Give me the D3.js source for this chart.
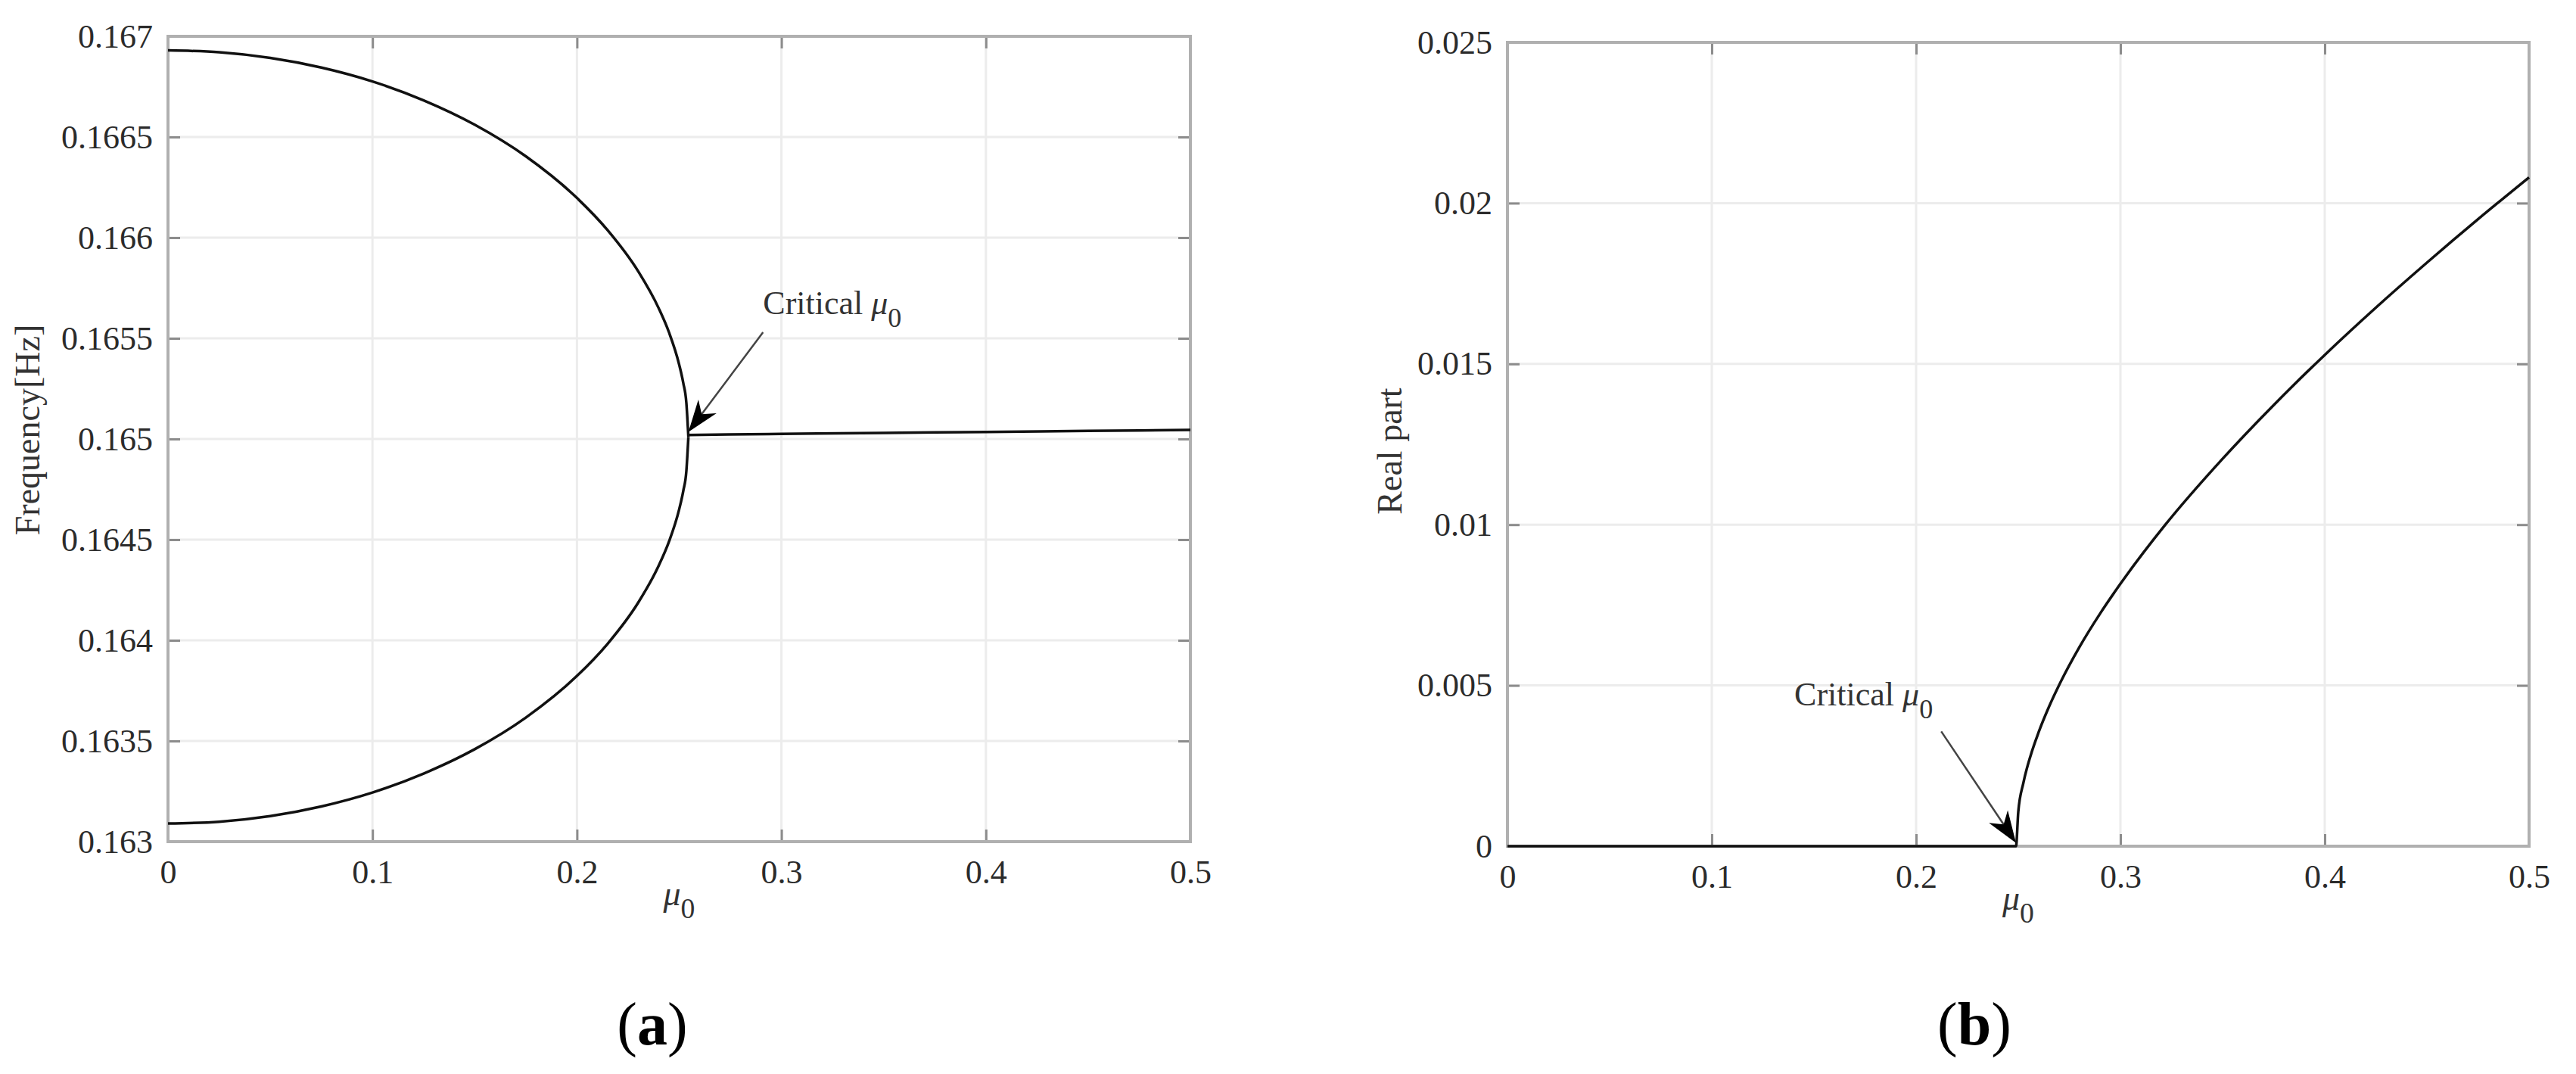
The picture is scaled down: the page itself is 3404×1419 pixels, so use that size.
<!DOCTYPE html>
<html>
<head>
<meta charset="utf-8">
<script src="https://cdn.jsdelivr.net/npm/d3@7/dist/d3.min.js"></script>
<style>
    body { margin: 0; background: #fff; }
    svg text { font-family: "Liberation Serif", "Times New Roman", serif; }
</style>
</head>
<body>
<script>
// tick values
const muTicks = [0, 0.1, 0.2, 0.3, 0.4, 0.5];
const freqTicks = [0.163, 0.1635, 0.164, 0.1645, 0.165, 0.1655, 0.166, 0.1665, 0.167];
const realTicks = [0, 0.005, 0.01, 0.015, 0.02, 0.025];

// (a) the two frequencies before they merge
const muSplit = [0, 0.025, 0.05, 0.075, 0.1, 0.125, 0.15, 0.175, 0.2, 0.215, 0.23, 0.24, 0.245, 0.25, 0.252, 0.2535, 0.2545];
const freqUpper = [0.16693, 0.166921, 0.166893, 0.166845, 0.166776, 0.166682, 0.166561, 0.166404, 0.166197, 0.166037, 0.165832, 0.165649, 0.16553, 0.165369, 0.165278, 0.16518, 0.16501];
const freqLower = [0.16309, 0.163099, 0.163127, 0.163175, 0.163244, 0.163338, 0.163459, 0.163616, 0.163823, 0.163983, 0.164188, 0.164371, 0.16449, 0.164651, 0.164742, 0.16484, 0.16501];
// (a) after the critical point there is a single frequency
const muMerged = [0.2545, 0.3, 0.35, 0.4, 0.45, 0.5];
const freqMerged = [0.16502, 0.165025, 0.16503, 0.165035, 0.16504, 0.165045];

// (b) real part of the eigenvalue
const muReal = [0, 0.1, 0.2, 0.2489, 0.25, 0.2525, 0.256, 0.26, 0.265, 0.2706, 0.28, 0.29, 0.3, 0.322, 0.35, 0.375, 0.4, 0.425, 0.45, 0.475, 0.5];
const realPart = [0, 0, 0, 0, 0.00107, 0.00197, 0.00281, 0.00355, 0.00433, 0.00509, 0.0062, 0.00723, 0.00816, 0.0100, 0.01205, 0.01372, 0.01528, 0.01675, 0.01815, 0.0195, 0.0208];

// annotation anchors, in data units: label corner, arrow tail, arrow tip
const noteA = [[0.291, 0.16562], [0.291, 0.16553], [0.2545, 0.165035]];
const noteB = [[0.1404, 0.00437], [0.2123, 0.00357], [0.2489, 0.0001]];

const W = 3404, H = 1419;
const svg = d3.select("body").append("svg")
    .attr("width", W)
    .attr("height", H);
svg.append("rect").attr("width", W).attr("height", H).attr("fill", "#fff");

//builds grid, box, ticks for one panel and hands back its scales
function makePanel(box, yDomain, yTicks) {
    let x = d3.scaleLinear().domain([0, 0.5]).range([box.left, box.right]);
    let y = d3.scaleLinear().domain(yDomain).range([box.bottom, box.top]);
    let g = svg.append("g");

    // grid lines, only the inner ones
    g.append("g").selectAll("line").data(muTicks.slice(1, -1)).join("line")
        .attr("x1", d => x(d)).attr("x2", d => x(d))
        .attr("y1", box.top).attr("y2", box.bottom)
        .attr("stroke", "#ececec").attr("stroke-width", 3);
    g.append("g").selectAll("line").data(yTicks.slice(1, -1)).join("line")
        .attr("y1", d => y(d)).attr("y2", d => y(d))
        .attr("x1", box.left).attr("x2", box.right)
        .attr("stroke", "#ececec").attr("stroke-width", 3);

    // ticks point inward on all four sides like matlab does
    const fmt = d => String(+d.toFixed(4));
    let axes = [
        g.append("g").attr("transform", "translate(0," + box.bottom + ")")
            .call(d3.axisBottom(x).tickValues(muTicks).tickSize(-16).tickSizeOuter(0).tickPadding(24).tickFormat(fmt)),
        g.append("g").attr("transform", "translate(0," + box.top + ")")
            .call(d3.axisTop(x).tickValues(muTicks).tickSize(-16).tickSizeOuter(0).tickFormat("")),
        g.append("g").attr("transform", "translate(" + box.left + ",0)")
            .call(d3.axisLeft(y).tickValues(yTicks).tickSize(-16).tickSizeOuter(0).tickPadding(20).tickFormat(fmt)),
        g.append("g").attr("transform", "translate(" + box.right + ",0)")
            .call(d3.axisRight(y).tickValues(yTicks).tickSize(-16).tickSizeOuter(0).tickFormat(""))
    ];
    axes.forEach(a => {
        a.select(".domain").remove();
        a.selectAll(".tick line").attr("stroke", "#8c8c8c").attr("stroke-width", 3);
        a.selectAll(".tick text")
            .attr("font-family", "Liberation Serif")
            .attr("font-size", 44)
            .attr("fill", "#2b2b2b");
    });

    // the box around the plot
    g.append("rect")
        .attr("x", box.left).attr("y", box.top)
        .attr("width", box.right - box.left).attr("height", box.bottom - box.top)
        .attr("fill", "none").attr("stroke", "#b0b0b0").attr("stroke-width", 4);

    return { g: g, x: x, y: y, box: box };
}

function drawCurve(p, xs, ys) {
    let line = d3.line()
        .x(d => p.x(d[0]))
        .y(d => p.y(d[1]))
        .curve(d3.curveMonotoneX);
    p.g.append("path")
        .datum(d3.zip(xs, ys))
        .attr("d", line)
        .attr("fill", "none")
        .attr("stroke", "#111")
        .attr("stroke-width", 3.5)
        .attr("stroke-linejoin", "round");
}

//text like "Critical μ0" with italic mu and lowered zero
function muText(sel, prefix, size) {
    if (prefix) sel.append("tspan").text(prefix);
    sel.append("tspan").attr("font-style", "italic").text("\u03BC");
    sel.append("tspan").attr("font-size", size * 0.82).attr("dy", size * 0.38).text("0");
}

function annotate(p, note) {
    const [lab, from, to] = note;
    let t = p.g.append("text")
        .attr("x", p.x(lab[0])).attr("y", p.y(lab[1]))
        .attr("font-size", 44).attr("fill", "#333");
    muText(t, "Critical ", 44);

    const x1 = p.x(from[0]), y1 = p.y(from[1]);
    const x2 = p.x(to[0]), y2 = p.y(to[1]);
    const len = Math.hypot(x2 - x1, y2 - y1);
    const ux = (x2 - x1) / len, uy = (y2 - y1) / len;
    const L = 42, hw = 15;
    p.g.append("line")
        .attr("x1", x1).attr("y1", y1)
        .attr("x2", x2 - ux * L * 0.6).attr("y2", y2 - uy * L * 0.6)
        .attr("stroke", "#444").attr("stroke-width", 2.5);
    // notched arrow head
    const bx = x2 - ux * L, by = y2 - uy * L;
    const pts = [
        [x2, y2],
        [bx - uy * hw, by + ux * hw],
        [x2 - ux * L * 0.7, y2 - uy * L * 0.7],
        [bx + uy * hw, by - ux * hw]
    ];
    p.g.append("polygon")
        .attr("points", pts.map(q => q.join(",")).join(" "))
        .attr("fill", "#000");
}

function xLabel(p, yPos) {
    let t = p.g.append("text")
        .attr("x", (p.box.left + p.box.right) / 2)
        .attr("y", yPos)
        .attr("text-anchor", "middle")
        .attr("font-size", 46).attr("fill", "#333");
    muText(t, "", 46);
}

function yLabel(p, text, xPos, yPos) {
    p.g.append("text")
        .attr("transform", "translate(" + xPos + "," + yPos + ") rotate(-90)")
        .attr("text-anchor", "middle")
        .attr("font-size", 46).attr("fill", "#333")
        .text(text);
}

function panelTag(cx, letter) {
    let t = svg.append("text")
        .attr("x", cx).attr("y", 1380)
        .attr("text-anchor", "middle")
        .attr("font-size", 80).attr("fill", "#000");
    t.append("tspan").text("(");
    t.append("tspan").attr("font-weight", "bold").text(letter);
    t.append("tspan").text(")");
}

// ---- panel (a): frequency ----
let pa = makePanel({ left: 222, right: 1573, top: 48, bottom: 1112 }, [0.163, 0.167], freqTicks);
drawCurve(pa, muSplit, freqUpper);
drawCurve(pa, muSplit, freqLower);
drawCurve(pa, muMerged, freqMerged);
annotate(pa, noteA);
xLabel(pa, 1196);
yLabel(pa, "Frequency[Hz]", 52, 568);

// ---- panel (b): real part ----
let pb = makePanel({ left: 1992, right: 3342, top: 56, bottom: 1118 }, [0, 0.025], realTicks);
drawCurve(pb, muReal, realPart);
annotate(pb, noteB);
xLabel(pb, 1202);
yLabel(pb, "Real part", 1852, 596);

panelTag(862, "a");
panelTag(2609, "b");
</script>
</body>
</html>
